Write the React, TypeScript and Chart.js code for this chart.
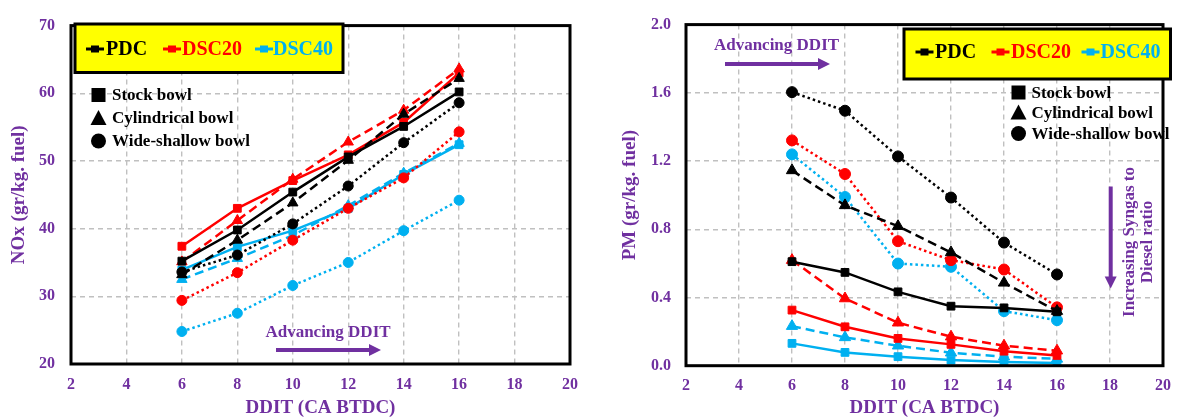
import React, { useEffect, useRef } from "react";
import { Chart, registerables } from "chart.js";

Chart.register(...registerables);

// ---------------- data ----------------
const DDIT = [6, 8, 10, 12, 14, 16];

const X_MIN = 2;
const X_MAX = 20;
const X_STEP = 2;
const NOX_MIN = 20;
const NOX_MAX = 70;
const NOX_STEP = 10;
const PM_MIN = 0;
const PM_MAX = 2;
const PM_STEP = 0.4;

const FUELS = ["PDC", "DSC20", "DSC40"];
const FUEL_COLORS = ["#000000", "#FF0000", "#00B0F0"];
const BOWLS = ["Stock bowl", "Cylindrical bowl", "Wide-shallow bowl"];

// NOx (gr/kg. fuel)
const noxPdcStock = [35.2, 39.8, 45.4, 50.6, 55.1, 60.2];
const noxPdcCyl = [33.2, 38.3, 43.8, 50.1, 56.9, 62.2];
const noxPdcWide = [33.6, 36.1, 40.7, 46.3, 52.7, 58.6];
const noxDsc20Stock = [37.4, 43.0, 47.1, 50.9, 55.7, 63.0];
const noxDsc20Cyl = [35.1, 41.2, 47.3, 52.8, 57.5, 63.6];
const noxDsc20Wide = [29.4, 33.5, 38.3, 43.0, 47.5, 54.3];
const noxDsc40Stock = [33.9, 37.3, 39.7, 43.0, 48.0, 52.4];
const noxDsc40Cyl = [32.5, 35.6, 39.0, 43.4, 48.2, 52.6];
const noxDsc40Wide = [24.8, 27.5, 31.6, 35.0, 39.7, 44.2];

// PM (gr/kg. fuel)
const pmPdcStock = [0.61, 0.547, 0.433, 0.349, 0.339, 0.316];
const pmPdcCyl = [1.145, 0.94, 0.818, 0.664, 0.486, 0.32];
const pmPdcWide = [1.604, 1.495, 1.227, 0.986, 0.722, 0.535];
const pmDsc20Stock = [0.326, 0.228, 0.16, 0.125, 0.085, 0.06];
const pmDsc20Cyl = [0.619, 0.394, 0.252, 0.17, 0.117, 0.088];
const pmDsc20Wide = [1.321, 1.124, 0.73, 0.619, 0.564, 0.342];
const pmDsc40Stock = [0.131, 0.078, 0.053, 0.033, 0.022, 0.016];
const pmDsc40Cyl = [0.232, 0.166, 0.117, 0.076, 0.053, 0.04];
const pmDsc40Wide = [1.239, 0.989, 0.599, 0.58, 0.32, 0.267];

const NOX_SERIES = [
  [noxPdcStock, noxPdcCyl, noxPdcWide],
  [noxDsc20Stock, noxDsc20Cyl, noxDsc20Wide],
  [noxDsc40Stock, noxDsc40Cyl, noxDsc40Wide],
];
const PM_SERIES = [
  [pmPdcStock, pmPdcCyl, pmPdcWide],
  [pmDsc20Stock, pmDsc20Cyl, pmDsc20Wide],
  [pmDsc40Stock, pmDsc40Cyl, pmDsc40Wide],
];

// ---------------- styles ----------------
const PURPLE = "#7030A0";
const FONT = "'Liberation Serif', 'Times New Roman', serif";
const POINT_STYLES = ["rect", "triangle", "circle"];
const DASHES = [[], [9, 5], [2.5, 3]];

function makeDatasets(series: number[][][], radii: number[]) {
  const out: any[] = [];
  for (let f = 0; f < FUELS.length; f++) {
    for (let b = 0; b < BOWLS.length; b++) {
      const c = FUEL_COLORS[f];
      out.push({
        label: `${FUELS[f]} - ${BOWLS[b]}`,
        data: DDIT.map((x, i) => ({ x, y: series[f][b][i] })),
        borderColor: c,
        backgroundColor: c,
        borderWidth: 2.5,
        borderDash: DASHES[b],
        pointStyle: POINT_STYLES[b],
        pointRadius: radii[b],
        pointBackgroundColor: c,
        pointBorderColor: c,
        pointBorderWidth: 1,
        tension: 0,
        fill: false,
      });
    }
  }
  return out;
}

function arrowH(ctx: CanvasRenderingContext2D, x1: number, x2: number, y: number) {
  const head = 12;
  ctx.strokeStyle = PURPLE;
  ctx.fillStyle = PURPLE;
  ctx.lineWidth = 4;
  ctx.setLineDash([]);
  ctx.beginPath();
  ctx.moveTo(x1, y);
  ctx.lineTo(x2 - head + 1, y);
  ctx.stroke();
  ctx.beginPath();
  ctx.moveTo(x2, y);
  ctx.lineTo(x2 - head, y - 6);
  ctx.lineTo(x2 - head, y + 6);
  ctx.closePath();
  ctx.fill();
}

function arrowV(ctx: CanvasRenderingContext2D, x: number, y1: number, y2: number) {
  const head = 12;
  ctx.strokeStyle = PURPLE;
  ctx.fillStyle = PURPLE;
  ctx.lineWidth = 4;
  ctx.setLineDash([]);
  ctx.beginPath();
  ctx.moveTo(x, y1);
  ctx.lineTo(x, y2 - head + 1);
  ctx.stroke();
  ctx.beginPath();
  ctx.moveTo(x, y2);
  ctx.lineTo(x - 6, y2 - head);
  ctx.lineTo(x + 6, y2 - head);
  ctx.closePath();
  ctx.fill();
}

const overlayPlugin = {
  id: "overlay",
  afterDraw(chart: any, _args: any, o: any) {
    const { ctx, chartArea: a } = chart;
    ctx.save();
    ctx.setLineDash([]);
    // frame
    ctx.strokeStyle = "#000";
    ctx.lineWidth = 3;
    ctx.strokeRect(a.left, a.top, a.right - a.left, a.bottom - a.top);

    // fuel legend box
    const lb = o.legendBox;
    ctx.fillStyle = "#FFFF00";
    ctx.fillRect(lb.x, lb.y, lb.w, lb.h);
    ctx.strokeStyle = "#000";
    ctx.lineWidth = 3;
    ctx.strokeRect(lb.x, lb.y, lb.w, lb.h);
    ctx.font = `bold 20px ${FONT}`;
    ctx.textBaseline = "middle";
    ctx.textAlign = "left";
    FUELS.forEach((name, i) => {
      const it = o.legendItems[i];
      const c = FUEL_COLORS[i];
      ctx.strokeStyle = c;
      ctx.fillStyle = c;
      ctx.lineWidth = 3;
      ctx.beginPath();
      ctx.moveTo(it.mx, o.legendY);
      ctx.lineTo(it.mx + 18, o.legendY);
      ctx.stroke();
      ctx.fillRect(it.mx + 5, o.legendY - 3.5, 8, 7);
      ctx.fillText(name, it.tx, o.legendY + 1);
    });

    // bowl shape legend
    const s = o.shapes;
    ctx.fillStyle = "#000";
    BOWLS.forEach((name, i) => {
      const y = s.ys[i];
      ctx.beginPath();
      if (i === 0) {
        ctx.fillRect(s.cx - 7, y - 7, 14, 14);
      } else if (i === 1) {
        ctx.moveTo(s.cx, y - 8);
        ctx.lineTo(s.cx + 8, y + 7);
        ctx.lineTo(s.cx - 8, y + 7);
        ctx.closePath();
        ctx.fill();
      } else {
        ctx.arc(s.cx, y, 7.5, 0, Math.PI * 2);
        ctx.fill();
      }
      ctx.font = `bold 17px ${FONT}`;
      ctx.textBaseline = "middle";
      ctx.textAlign = "left";
      ctx.fillText(name, s.tx, y + 1);
    });

    // advancing DDIT
    const ad = o.advancing;
    ctx.fillStyle = PURPLE;
    ctx.font = `bold 17px ${FONT}`;
    ctx.textAlign = "center";
    ctx.textBaseline = "middle";
    ctx.fillText("Advancing DDIT", ad.tx, ad.ty);
    arrowH(ctx, ad.ax1, ad.ax2, ad.ay);

    // vertical annotation
    if (o.vertical) {
      const v = o.vertical;
      arrowV(ctx, v.ax, v.ay1, v.ay2);
      ctx.fillStyle = PURPLE;
      ctx.font = `bold 17px ${FONT}`;
      ctx.textAlign = "center";
      ctx.textBaseline = "middle";
      v.lines.forEach((ln: any) => {
        ctx.save();
        ctx.translate(ln.x, ln.y);
        ctx.rotate(-Math.PI / 2);
        ctx.fillText(ln.text, 0, 0);
        ctx.restore();
      });
    }
    ctx.restore();
  },
};

function makeConfig(p: any) {
  return {
    type: "line",
    data: { datasets: p.datasets },
    plugins: [overlayPlugin],
    options: {
      animation: false,
      responsive: false,
      maintainAspectRatio: false,
      layout: { padding: { left: 0, right: p.padRight, top: p.padTop, bottom: 0 } },
      plugins: {
        legend: { display: false },
        tooltip: { enabled: false },
        overlay: p.overlay,
      },
      scales: {
        x: {
          type: "linear",
          min: X_MIN,
          max: X_MAX,
          ticks: {
            stepSize: X_STEP,
            color: PURPLE,
            font: { family: FONT, size: 16, weight: "bold" },
            padding: 11,
            maxRotation: 0,
          },
          grid: { color: "#C0C0C0", lineWidth: 1.4, drawTicks: false },
          border: { display: false, dash: [5, 4] },
          title: {
            display: true,
            text: "DDIT (CA BTDC)",
            color: PURPLE,
            font: { family: FONT, size: 19, weight: "bold" },
            padding: { top: 0, bottom: -2.4 },
          },
          afterFit: (sc: any) => {
            sc.height = p.xHeight;
          },
        },
        y: {
          type: "linear",
          min: p.yMin,
          max: p.yMax,
          ticks: {
            stepSize: p.yStep,
            color: PURPLE,
            font: { family: FONT, size: 16, weight: "bold" },
            padding: p.yTickPad,
            callback: p.yFmt,
          },
          grid: { color: "#C0C0C0", lineWidth: 1.4, drawTicks: false },
          border: { display: false, dash: [5, 4] },
          title: {
            display: true,
            text: p.yTitle,
            color: PURPLE,
            font: { family: FONT, size: 19, weight: "bold" },
            padding: { top: p.yTitlePad, bottom: 0 },
          },
          afterFit: (sc: any) => {
            sc.width = p.yWidth;
          },
        },
      },
    },
  };
}

const noxConfig = () =>
  makeConfig({
    datasets: makeDatasets(NOX_SERIES, [5.5, 6, 5]),
    padRight: 20,
    padTop: 20,
    xHeight: 53,
    yWidth: 71,
    yMin: NOX_MIN,
    yMax: NOX_MAX,
    yStep: NOX_STEP,
    yTickPad: 16,
    yFmt: (v: number) => String(v),
    yTitle: "NOx (gr/kg. fuel)",
    yTitlePad: 7.6,
    overlay: {
      legendBox: { x: 75, y: 24, w: 268, h: 48.5 },
      legendItems: [
        { mx: 86, tx: 106 },
        { mx: 163, tx: 182 },
        { mx: 255, tx: 273 },
      ],
      legendY: 49,
      shapes: { cx: 98.5, ys: [95, 118, 141], tx: 112 },
      advancing: { tx: 328, ty: 333, ax1: 276, ax2: 381, ay: 350 },
    },
  });

const pmConfig = () =>
  makeConfig({
    datasets: makeDatasets(PM_SERIES, [5.5, 6.5, 5.5]),
    padRight: 8.5,
    padTop: 24.5,
    xHeight: 51.3,
    yWidth: 86,
    yMin: PM_MIN,
    yMax: PM_MAX,
    yStep: PM_STEP,
    yTickPad: 15,
    yFmt: (v: number) => v.toFixed(1),
    yTitle: "PM (gr/kg. fuel)",
    yTitlePad: 18.6,
    overlay: {
      legendBox: { x: 304, y: 29, w: 266.5, h: 50 },
      legendItems: [
        { mx: 315.5, tx: 335 },
        { mx: 391.5, tx: 411 },
        { mx: 481.5, tx: 500.5 },
      ],
      legendY: 52,
      shapes: { cx: 418.5, ys: [92.5, 112.5, 133.5], tx: 431.5 },
      advancing: { tx: 176.5, ty: 46, ax1: 125, ax2: 230, ay: 64 },
      vertical: {
        ax: 510.7,
        ay1: 186.5,
        ay2: 288.5,
        lines: [
          { text: "Increasing Syngas to", x: 530, y: 242 },
          { text: "Diesel ratio", x: 548, y: 242 },
        ],
      },
    },
  });

function ChartCanvas({ left, width, makeCfg }: { left: number; width: number; makeCfg: () => any }) {
  const ref = useRef<HTMLCanvasElement>(null);
  useEffect(() => {
    const chart = new Chart(ref.current as HTMLCanvasElement, makeCfg() as any);
    return () => chart.destroy();
  }, []);
  return (
    <canvas
      ref={ref}
      width={width}
      height={417}
      style={{ position: "absolute", left, top: 0, width, height: 417, display: "block" }}
    />
  );
}

export default function App() {
  return (
    <div
      style={{
        position: "fixed",
        left: 0,
        top: 0,
        width: 1182,
        height: 417,
        background: "#FFFFFF",
        overflow: "hidden",
      }}
    >
      <ChartCanvas left={0} width={590} makeCfg={noxConfig} />
      <ChartCanvas left={600} width={582} makeCfg={pmConfig} />
    </div>
  );
}
